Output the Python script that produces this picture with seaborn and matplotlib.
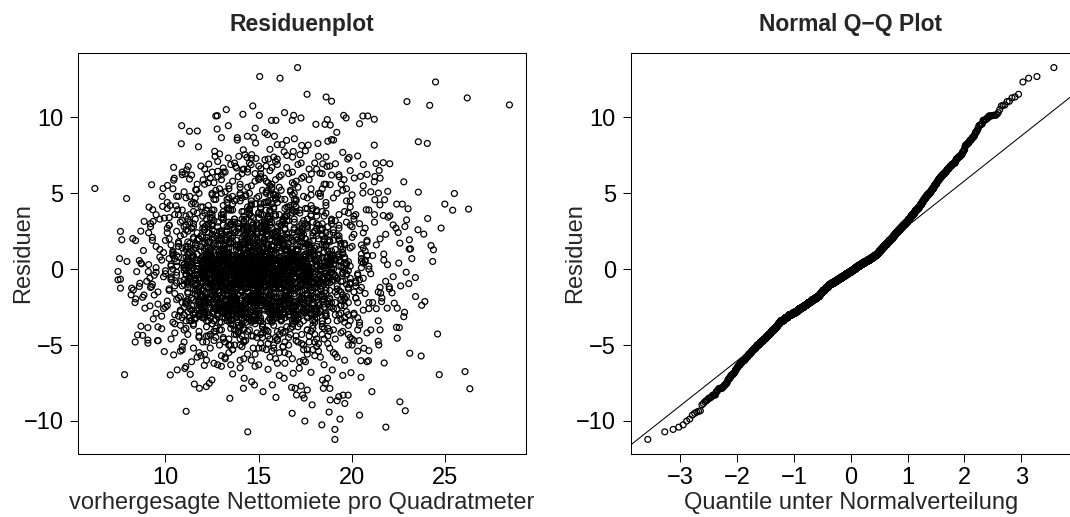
import numpy as np
import pandas as pd
import matplotlib
matplotlib.use("Agg")
import matplotlib.pyplot as plt
import seaborn as sns
from statistics import NormalDist

# ---------------- data ----------------
# outer points: large positive residuals
fitted_top = [17.08,15.05,16.14,24.47,17.59,26.17,18.61,18.90,22.94,24.16,28.43,14.68,13.26,16.38,12.70,12.78,
              14.15,15.03,16.87,17.26,19.55,19.68,20.58,20.84,21.19,20.40,15.68,15.92,16.79,18.06,18.67,18.55,
              18.83,10.87,11.29,11.71,12.77,13.37,14.81,19.18,10.85,11.77,13.00,13.85,13.85,14.39,14.72,14.83,
              15.33,15.47,15.84,15.99,16.25,16.49,16.91,17.30,17.65,18.17,18.70,18.90,19.01,21.19,23.55,24.03]
resid_top = [13.29,12.70,12.59,12.34,11.53,11.29,11.35,11.07,11.05,10.80,10.83,10.76,10.52,10.32,10.10,10.12,
             10.21,10.14,10.14,9.97,10.14,9.97,10.10,10.10,9.88,9.59,9.81,9.81,9.81,9.55,9.86,9.55,
             9.50,9.46,9.09,9.11,9.24,9.46,9.29,9.02,8.27,8.07,8.67,8.67,8.51,8.76,8.69,8.32,
             9.00,8.87,8.76,8.21,8.21,8.49,8.60,8.16,8.18,8.29,8.43,8.54,8.51,8.18,8.40,8.29]

fitted_upper = [21.28,21.67,22.02,21.45,20.30,19.77,19.84,19.11,20.80,20.45,12.64,12.66,12.32,12.80,13.37,12.23,
                13.93,14.37,14.85,13.76,14.15,14.59,15.11,15.51,15.81,15.99,16.36,16.81,17.21,17.27,17.82,18.20,
                18.43,18.28,18.65,19.29,10.44,10.90,11.22,11.05,12.51,13.10,13.81,14.17,14.26,14.62,15.33,16.85,
                11.14,10.47,11.67,12.02,19.57,20.12,18.83,19.42,21.22]
resid_upper = [6.97,7.02,6.95,6.51,7.46,7.26,7.37,6.95,6.25,6.12,7.77,7.44,6.93,6.45,7.33,6.27,
               7.44,7.37,7.30,6.78,6.56,6.89,6.62,7.26,7.39,7.26,7.74,7.39,7.55,7.00,6.29,7.44,
               6.95,6.34,6.78,6.23,6.71,6.23,6.78,6.29,6.40,6.67,6.67,7.87,7.55,7.55,7.21,7.76,
               6.55,6.00,5.23,5.89,5.90,6.01,5.57,5.61,6.11]

fitted_left = [6.22,7.92,9.26,9.87,10.11,9.83,10.44,11.29,11.62,10.24,10.57,10.66,10.70,9.50,9.85,9.94,
               9.12,9.32,8.86,9.34,8.68,7.59,7.66,8.25,8.40,8.82,7.94,7.54,8.60,8.69,7.46,7.46,
               7.59,8.60,7.59,8.41,8.16,8.19,9.35,8.69,9.06,8.51,9.80,8.38,9.06,9.58,9.94,10.44,
               10.90,8.28,8.37,8.85,8.78,8.63,8.46,8.72,9.08,9.17,9.26,8.90,9.17,8.78,9.06,9.61]
resid_left = [5.32,4.66,5.57,5.32,5.52,4.80,5.87,5.94,5.24,4.20,4.18,3.92,3.59,3.59,4.14,3.37,
              4.09,3.92,3.15,3.15,2.51,2.49,1.94,2.02,1.89,1.23,0.51,0.70,0.57,0.40,-0.15,-0.70,
              -0.66,-1.14,-1.25,-1.96,-1.69,-1.25,-3.28,-3.76,-3.85,-4.33,-3.92,-4.80,-4.88,-4.71,-5.43,-5.65,
              -5.32,-1.37,-2.20,-1.70,-1.85,-0.93,-0.16,0.35,-0.16,-0.59,-1.15,-2.57,-2.42,-4.36,-4.67,-4.71]

fitted_bottom = [21.06,21.72,20.88,20.47,20.48,19.94,22.56,22.85,21.81,20.40,19.08,19.08,18.38,19.35,
                 18.77,18.83,19.20,19.52,19.79,19.61,19.29,17.86,17.47,16.79,17.35,17.02,16.76,16.95,17.27,
                 17.60,17.43,15.92,13.45,14.41,11.11,7.81,11.82,11.55,12.19,12.35,12.49,14.18,14.62,14.77,
                 15.23,15.73,14.22,16.36,16.84,17.17,18.57,18.68,18.94,18.46,18.81,18.42,10.26,10.63,11.33,
                 11.09,11.04,12.08,24.67,26.05,26.31,13.00,13.60,14.00,15.50,16.10,17.80,19.50]
resid_bottom = [-8.07,-6.18,-6.03,-6.03,-7.13,-6.82,-8.74,-9.33,-10.41,-9.62,-10.56,-11.22,-10.26,-9.88,
                -9.42,-8.62,-8.67,-8.30,-8.30,-8.85,-8.40,-8.94,-10.01,-9.50,-8.29,-8.29,-7.79,-7.85,-7.70,
                -7.96,-8.50,-8.45,-8.51,-10.72,-9.37,-6.95,-7.85,-7.57,-7.74,-7.52,-7.30,-7.85,-7.42,-7.63,
                -8.07,-7.63,-7.19,-7.19,-6.86,-6.53,-7.52,-7.19,-6.64,-7.85,-7.86,-7.31,-6.97,-6.64,-6.93,
                -6.42,-6.54,-6.34,-6.95,-6.75,-7.88,-6.40,-6.90,-6.50,-6.60,-7.00,-6.80,-7.00]

fitted_right = [22.77,21.19,23.55,25.48,24.97,25.39,26.24,23.00,22.69,22.39,21.41,21.91,21.74,24.05,24.77,23.84,
                23.53,23.07,23.13,24.23,24.36,24.32,23.20,22.56,23.06,23.39,23.04,23.40,23.90,23.73,22.81,22.42,
                22.14,22.00,21.88,22.26,22.77,22.53,22.38,22.42,21.50,21.43,24.58,23.09,23.70,20.38,20.63,20.90,
                21.40,20.58,21.22,20.76,22.83,22.92,22.20,22.35,22.47,22.02,21.67,21.93,21.49,21.53,21.99,22.20,
                21.58,22.50,22.90,22.60]
resid_right = [5.76,5.76,5.08,4.99,4.29,3.89,3.96,3.98,4.29,4.29,5.02,5.13,4.58,3.34,2.71,2.31,
               2.60,1.94,1.34,1.56,1.28,0.51,0.70,1.72,1.32,-0.55,-0.95,-1.80,-2.13,-2.38,-2.84,-2.57,
               -1.56,-1.30,-2.57,-2.24,-3.13,-3.85,-3.83,-4.55,-4.00,-4.99,-4.27,-5.54,-5.72,-4.71,-5.21,-5.37,
               -4.75,5.02,4.58,3.92,2.81,3.25,2.92,2.71,2.42,3.52,3.54,3.43,4.24,-1.58,-1.15,-0.49,
               -2.14,0.40,-0.20,-1.10]

# core cloud, fitted 9-13
fitted_core_a = [9.1,9.2,9.3,9.4,9.5,9.6,9.7,9.8,9.9,9.0,9.2,9.4,9.5,9.7,9.9,9.3,9.5,9.6,9.8,9.1,9.3,9.5,9.7,9.9,9.2,9.6,
    10.3,10.7,10.1,10.9,10.5,10.2,10.8,10.4,10.6,10.0,10.5,10.9,10.2,10.7,10.3,10.8,10.1,10.6,10.4,10.9,
    10.2,10.5,10.8,10.0,10.6,10.3,10.7,10.1,10.4,10.9,10.5,10.2,10.8,10.6,10.3,10.7,10.0,10.4,10.9,10.1,
    10.6,10.8,10.2,10.5,10.7,10.3,10.9,10.4,
    11.4,11.8,11.1,11.6,11.0,11.9,11.3,11.7,11.2,11.5,11.8,11.2,11.6,11.0,11.4,11.9,11.3,11.7,11.1,11.5,
    11.6,11.3,11.9,11.1,11.7,11.4,11.0,11.8,11.2,11.5,11.9,11.4,11.2,11.7,11.5,11.0,11.6,11.3,11.8,11.1,
    11.2,11.7,11.5,11.9,11.3,11.6,11.1,11.8,11.4,11.0,11.5,11.9,11.2,11.6,11.8,11.3,11.7,11.1,11.4,11.6,
    11.7,11.2,11.9,11.4,11.5,11.8,11.3,11.6,11.1,11.8,11.5,11.9,
    12.3,12.7,12.0,12.9,12.5,12.2,12.8,12.4,12.6,12.1,12.6,12.2,12.9,12.4,12.0,12.7,12.3,12.8,12.5,12.1,
    12.8,12.4,12.1,12.6,12.9,12.3,12.5,12.0,12.7,12.2,12.5,12.9,12.2,12.7,12.1,12.4,12.8,12.6,12.0,12.3,
    12.1,12.6,12.8,12.3,12.5,12.9,12.0,12.4,12.2,12.7,12.9,12.3,12.6,12.0,12.8,12.2,12.5,12.7,12.1,12.4,
    12.4,12.8,12.2,12.5,12.3,12.7,12.1,12.9,12.6,12.0,12.7,12.1,12.4,12.9,12.6,12.0,12.8,12.3,12.5,12.2,
    12.2,12.5,12.9,12.1,12.7,12.4,12.0,12.6,12.3,12.8,12.6,12.3,12.8,12.5]
resid_core_a = [0.3,-1.2,2.1,-0.4,1.5,-2.3,0.8,-3.1,1.1,-0.8,2.8,-1.7,0.1,3.3,-2.6,1.9,-0.2,-3.8,0.6,2.4,-1.0,-2.9,1.3,-0.5,3.0,-1.5,
    -0.6,1.8,-2.4,0.4,3.6,-1.3,2.2,-3.5,0.9,-0.1,-4.2,1.4,2.9,-1.9,0.2,-2.8,4.4,-0.9,1.0,-3.2,
    0.7,-1.6,3.1,-0.3,2.5,-4.6,1.7,-2.1,0.0,3.9,-1.1,2.0,-3.7,0.5,-0.7,4.8,-2.5,1.2,-5.1,2.7,
    -0.4,-1.8,3.4,-3.0,0.8,1.6,-2.2,5.3,
    0.8,-1.5,2.6,-3.3,0.1,4.1,-0.7,1.9,-2.0,3.0,-4.4,0.5,-1.1,2.3,-2.7,1.2,-0.2,3.7,-3.9,0.9,
    1.6,-0.5,-2.3,4.7,-1.4,0.3,2.8,-3.0,1.0,-5.2,0.6,-1.9,3.3,-0.9,2.0,-4.0,1.4,-2.6,5.0,-0.3,
    -1.2,2.4,-3.6,0.0,1.7,-0.6,3.5,-2.2,0.4,-4.8,2.1,-1.7,0.7,4.3,-2.9,1.1,-0.4,-3.4,2.7,-1.0,
    5.6,-0.8,1.5,-2.4,3.8,-5.5,0.2,-1.6,2.9,-3.1,1.3,-0.1,
    -0.3,2.2,-1.8,0.9,-3.6,1.5,-0.8,3.4,-2.3,0.4,4.6,-1.2,0.1,-4.3,2.7,-0.5,1.8,-2.9,0.6,-1.6,
    3.1,-3.2,1.2,-0.1,-5.0,2.4,-1.4,0.8,5.2,-2.1,-0.7,1.9,-3.8,0.3,3.7,-1.0,2.0,-2.6,-0.4,4.2,
    1.4,-4.7,0.5,-1.9,2.9,-0.2,-3.0,1.1,3.9,-1.3,-2.4,0.7,5.7,-0.9,1.6,-3.4,2.3,-0.6,-5.6,1.0,
    0.2,-2.0,3.3,-1.5,0.9,-4.1,2.6,-0.3,1.7,-2.8,4.9,-1.1,0.0,-3.5,2.1,-0.8,1.3,-2.2,3.6,-6.0,
    0.6,-1.7,2.5,-0.5,-4.5,1.2,3.0,-2.5,0.4,6.1,-1.4,2.8,-3.1,0.8]

# core cloud, fitted 13-17
fitted_core_b = [13.2,13.6,13.9,13.1,13.5,13.8,13.0,13.4,13.7,13.3,13.7,13.3,13.0,13.5,13.9,13.2,13.6,13.1,13.8,13.4,
    13.4,13.8,13.2,13.6,13.0,13.9,13.5,13.3,13.1,13.7,13.9,13.1,13.5,13.7,13.3,13.0,13.8,13.6,13.4,13.2,
    13.5,13.2,13.8,13.0,13.6,13.4,13.1,13.9,13.3,13.7,13.1,13.7,13.4,13.8,13.2,13.5,13.9,13.0,13.6,13.3,
    13.8,13.4,13.6,13.2,13.9,13.1,13.3,13.7,13.5,13.0,13.3,13.9,13.1,13.4,13.7,13.6,13.2,13.8,13.0,13.5,
    13.6,13.0,13.3,13.9,13.1,13.8,13.4,13.5,13.7,13.2,13.0,13.5,13.7,13.3,13.6,13.2,13.8,13.1,13.4,13.9,
    13.4,13.7,13.1,13.6,13.3,13.8,13.5,13.2,
    14.1,14.5,14.8,14.2,14.6,14.9,14.0,14.4,14.7,14.3,14.6,14.2,14.9,14.4,14.0,14.7,14.3,14.8,14.1,14.5,
    14.3,14.7,14.0,14.5,14.8,14.1,14.6,14.9,14.2,14.4,14.8,14.4,14.1,14.6,14.3,14.0,14.7,14.5,14.9,14.2,
    14.0,14.6,14.3,14.9,14.5,14.2,14.8,14.1,14.4,14.7,14.5,14.1,14.7,14.3,14.9,14.6,14.0,14.2,14.8,14.4,
    14.7,14.3,14.5,14.0,14.2,14.8,14.4,14.6,14.1,14.9,14.2,14.9,14.4,14.8,14.1,14.3,14.5,14.0,14.7,14.6,
    14.9,14.0,14.6,14.1,14.7,14.5,14.2,14.3,14.6,14.8,14.4,14.8,14.2,14.7,14.0,14.9,14.3,14.5,14.1,14.6,
    14.3,14.6,14.9,14.1,14.4,14.7,14.2,14.8,14.5,14.0,14.5,14.2,14.8,14.4,
    15.2,15.6,15.9,15.1,15.5,15.8,15.0,15.4,15.7,15.3,15.7,15.3,15.0,15.5,15.9,15.2,15.6,15.1,15.8,15.4,
    15.4,15.8,15.2,15.6,15.0,15.9,15.5,15.3,15.1,15.7,15.9,15.1,15.5,15.7,15.3,15.0,15.8,15.6,15.4,15.2,
    15.5,15.2,15.8,15.0,15.6,15.4,15.1,15.9,15.3,15.7,15.1,15.7,15.4,15.8,15.2,15.5,15.9,15.0,15.6,15.3,
    15.8,15.4,15.6,15.2,15.9,15.1,15.3,15.7,15.5,15.0,15.3,15.9,15.1,15.4,15.7,15.6,15.2,15.8,15.0,15.5,
    15.6,15.0,15.3,15.9,15.1,15.8,15.4,15.5,15.7,15.2,15.0,15.5,15.7,15.3,15.6,15.2,15.8,15.1,15.4,15.9,
    15.4,15.7,15.1,15.6,15.3,15.8,15.5,15.2,15.9,15.0,
    16.3,16.7,16.0,16.9,16.5,16.2,16.8,16.4,16.6,16.1,16.6,16.2,16.9,16.4,16.0,16.7,16.3,16.8,16.5,16.1,
    16.8,16.4,16.1,16.6,16.9,16.3,16.5,16.0,16.7,16.2,16.5,16.9,16.2,16.7,16.1,16.4,16.8,16.6,16.0,16.3,
    16.1,16.6,16.8,16.3,16.5,16.9,16.0,16.4,16.2,16.7,16.9,16.3,16.6,16.0,16.8,16.2,16.5,16.7,16.1,16.4,
    16.4,16.8,16.2,16.5,16.3,16.7,16.1,16.9,16.6,16.0,16.7,16.1,16.4,16.9,16.6,16.0,16.8,16.3,16.5,16.2,
    16.2,16.5,16.9,16.1,16.7,16.4,16.0,16.6,16.3,16.8,16.6,16.3,16.8,16.5,16.1,16.4,16.7,16.0]
resid_core_b = [0.5,-1.9,3.0,-0.4,1.7,-3.1,0.0,2.3,-2.5,4.4,-0.9,1.1,-4.0,0.7,2.8,-1.4,-5.3,3.6,-0.2,1.4,
    -2.8,0.3,5.1,-1.1,2.0,-3.7,0.9,-0.6,3.3,-2.1,1.5,-4.5,0.2,-1.6,4.0,-0.8,2.5,-3.3,0.6,-5.8,
    2.9,-1.3,0.4,-2.7,1.8,5.5,-0.5,-3.9,1.0,-1.8,3.8,-0.1,-2.3,0.8,-4.8,2.2,-1.0,1.3,-3.0,0.1,
    -0.7,4.7,-2.0,1.6,-3.5,0.5,2.6,-1.5,-6.3,1.9,0.9,-2.6,3.4,-0.3,-4.3,2.1,-1.2,0.4,5.9,-3.4,
    -1.7,1.2,-0.4,2.7,-2.9,0.0,-5.0,3.9,-0.9,1.5,2.4,-3.6,0.6,-1.4,4.3,-2.2,0.2,-0.7,3.1,-4.1,
    1.0,-1.9,6.4,-2.4,0.8,-3.2,1.7,-0.5,
    -0.2,1.6,-2.2,3.5,-0.9,0.4,-3.8,2.0,-1.3,4.9,0.8,-2.7,1.2,-0.5,-4.6,2.9,0.1,-1.7,3.3,-3.2,
    1.9,-0.7,5.4,-2.0,0.5,-1.1,2.4,-4.2,0.0,3.8,-2.5,1.0,-0.3,4.5,-3.5,0.7,-5.2,1.8,-1.5,2.6,
    -0.6,3.1,-2.9,0.3,1.4,-4.0,5.8,-1.0,2.2,-0.1,-3.3,0.9,-1.8,2.8,-0.4,4.2,-2.4,1.3,-5.6,0.2,
    1.7,-1.2,3.6,-3.0,0.6,-0.8,2.1,-4.4,6.3,-1.6,0.4,2.5,-2.1,1.1,-3.6,-0.2,4.0,-1.4,0.8,-6.0,
    3.0,-0.9,1.5,-2.6,0.0,5.0,-3.9,2.3,-0.6,1.2,-1.9,0.5,-4.8,3.4,-0.3,1.9,-2.3,0.9,4.7,-1.0,
    2.7,-3.4,0.2,-0.7,6.6,-2.8,1.6,-1.3,3.9,-5.0,0.6,-0.5,2.0,-2.0,
    0.7,-1.4,2.5,4.3,-0.3,-2.8,1.2,5.0,-0.8,3.2,-3.5,0.2,1.8,-1.9,4.7,-0.5,2.9,-4.3,0.9,3.9,
    -2.2,1.5,-0.1,5.5,-3.1,0.6,2.2,-1.2,4.0,-5.4,1.0,-0.7,3.5,-2.5,0.3,6.0,-1.6,2.0,-4.0,1.3,
    4.5,-0.2,-3.3,1.7,0.0,3.0,-1.0,-5.9,2.6,-2.0,0.4,5.3,-1.5,2.4,-3.8,1.1,-0.4,3.7,-2.6,0.8,
    -0.9,2.8,-4.6,1.4,4.9,-1.8,0.1,-2.9,3.4,-0.6,1.9,-3.0,6.3,-1.1,0.5,-2.3,2.1,4.1,-0.3,-4.9,
    3.3,-1.6,0.8,-0.1,2.7,-3.7,5.8,-2.1,1.6,-0.8,-1.3,4.4,0.2,-2.7,1.2,3.6,-5.0,0.6,-0.5,2.3,
    5.1,-3.4,1.0,-1.7,3.1,-0.2,-4.4,2.5,0.3,-1.0,
    -0.5,2.1,-2.4,0.8,4.1,-1.3,-3.6,1.6,0.0,3.0,-4.5,0.4,2.6,-1.8,-0.2,5.2,-2.9,1.1,-0.8,3.6,
    1.9,-3.2,0.6,-1.1,4.6,-5.1,2.3,-0.4,0.9,-2.1,-1.5,3.3,0.2,-3.9,1.4,-0.7,5.7,-2.6,2.8,-0.1,
    0.7,-1.9,3.9,-4.2,1.2,-0.3,2.4,-6.2,-1.2,0.5,4.3,-2.3,1.7,-0.6,-3.4,2.9,0.1,-1.6,6.1,-4.8,
    -0.9,1.3,-2.7,3.5,0.3,-1.4,2.0,-3.0,-0.2,4.8,1.0,-5.5,2.7,-0.5,-2.0,0.6,3.7,-1.0,-3.8,1.8,
    0.2,-1.7,5.0,-2.5,0.9,-4.1,2.2,-0.7,3.2,-1.3,-3.1,0.5,1.5,-0.1,-2.2,4.0,-0.9,2.5]

# core cloud, fitted 17-22
fitted_core_c = [17.2,17.6,17.9,17.1,17.5,17.8,17.0,17.4,17.7,17.3,17.7,17.3,17.0,17.5,17.9,17.2,17.6,17.1,17.8,17.4,
    17.4,17.8,17.2,17.6,17.0,17.9,17.5,17.3,17.1,17.7,17.9,17.1,17.5,17.7,17.3,17.0,17.8,17.6,17.4,17.2,
    17.5,17.2,17.8,17.0,17.6,17.4,17.1,17.9,17.3,17.7,17.1,17.7,17.4,17.8,17.2,17.5,17.9,17.0,17.6,17.3,
    17.8,17.4,17.6,17.2,17.9,17.1,17.3,17.7,17.5,17.0,17.3,17.9,17.1,17.4,17.7,17.6,17.2,17.8,17.0,17.5,
    17.6,17.0,
    18.3,18.7,18.0,18.9,18.5,18.2,18.8,18.4,18.6,18.1,18.6,18.2,18.9,18.4,18.0,18.7,18.3,18.8,18.5,18.1,
    18.8,18.4,18.1,18.6,18.9,18.3,18.5,18.0,18.7,18.2,18.5,18.9,18.2,18.7,18.1,18.4,18.8,18.6,18.0,18.3,
    18.1,18.6,18.8,18.3,18.5,18.9,18.0,18.4,18.2,18.7,18.9,18.3,18.6,18.0,18.8,18.2,18.5,18.7,18.1,18.4,
    18.4,18.8,18.2,18.5,18.3,18.7,
    19.3,19.7,19.0,19.9,19.5,19.2,19.8,19.4,19.6,19.1,19.6,19.2,19.9,19.4,19.0,19.7,19.3,19.8,19.5,19.1,
    19.8,19.4,19.1,19.6,19.9,19.3,19.5,19.0,19.7,19.2,19.5,19.9,19.2,19.7,19.1,19.4,19.8,19.6,19.0,19.3,
    19.1,19.6,19.8,19.3,19.5,19.9,19.0,19.4,
    20.2,20.6,20.9,20.1,20.5,20.8,20.0,20.4,20.7,20.3,20.7,20.3,20.0,20.5,20.9,20.2,20.6,20.1,20.8,20.4,
    20.4,20.8,20.2,20.6,20.0,20.9,20.5,20.3,20.1,20.7,20.5,20.1,
    21.1,21.5,21.8,21.3,21.0,21.7,21.4,21.9,21.2,21.6,21.3,21.8,21.1,21.5,21.0,21.7,21.4,21.2]
resid_core_c = [0.3,-1.7,2.4,-3.0,1.0,-0.5,3.8,-2.2,0.7,-4.3,1.8,-0.9,4.6,-1.4,0.0,-3.6,2.9,-0.3,1.4,-5.0,
    -2.6,0.9,-1.1,3.3,-4.7,0.4,2.0,-1.9,5.4,-0.6,1.2,-3.3,0.1,-0.8,2.6,-2.4,4.2,-5.6,0.6,-1.5,
    3.0,-0.2,-2.9,1.6,-4.0,0.8,-1.2,2.2,-0.4,5.9,-3.8,1.1,-0.7,3.6,-2.0,0.2,-5.3,1.9,-1.6,2.7,
    0.5,-2.7,4.0,-0.1,-3.4,1.3,-1.0,0.9,-6.1,2.1,-0.5,3.1,-2.3,1.5,-4.4,0.3,-1.8,4.9,-0.9,1.7,
    -3.1,0.0,
    -0.4,1.9,-2.8,0.6,3.5,-1.5,-4.1,2.3,-0.9,0.3,4.4,-2.2,1.2,-0.6,-3.5,2.8,0.0,-5.2,1.6,-1.2,
    -1.9,0.8,3.0,-3.1,-0.2,5.0,-4.6,1.4,-0.8,2.0,0.4,-2.5,1.0,-0.5,3.9,-3.8,0.7,-1.6,2.5,-5.8,
    1.5,-0.1,-2.0,4.8,-1.0,0.9,-3.3,2.2,-0.7,-4.4,3.2,-1.3,0.2,-2.6,1.8,-0.3,5.6,-3.9,0.5,-1.8,
    2.7,-0.6,-4.9,1.1,-2.3,0.1,
    0.2,-1.8,2.6,-3.4,1.1,-0.6,3.7,-2.4,0.7,-4.6,1.6,-1.1,4.5,-2.9,0.0,-0.4,2.2,-5.0,1.3,-1.5,
    -3.7,0.5,3.2,-2.0,-0.9,1.9,-4.1,0.9,5.3,-2.6,-0.2,2.9,-1.3,0.4,-5.6,1.5,-3.0,3.8,-0.7,2.0,
    -2.2,0.8,-4.3,1.0,-1.7,4.1,-0.3,-3.3,
    -0.8,1.4,-2.6,3.3,0.1,-4.2,2.1,-1.4,0.6,-3.2,2.7,-0.3,-5.0,1.0,3.9,-1.9,0.4,-2.9,1.8,-0.7,
    -3.7,0.9,-1.1,2.4,-4.6,0.0,1.6,-2.2,3.5,-1.6,0.5,-3.0,
    0.9,-1.2,2.3,-2.6,-0.3,1.0,-3.4,0.3,3.1,-1.9,1.6,-0.8,-2.2,2.0,-4.0,0.6,-1.5,3.6]

# dense centre of the cloud
fitted_dense_a = [10.4,10.8,10.1,10.6,10.3,10.9,10.2,10.7,10.5,10.0,10.6,10.2,10.8,10.4,10.9,10.1,10.5,10.7,10.3,10.6,
    11.5,11.1,11.8,11.3,11.6,11.0,11.9,11.4,11.7,11.2,11.2,11.7,11.4,11.9,11.0,11.6,11.3,11.8,11.1,11.5,
    11.8,11.3,11.6,11.1,11.4,11.9,11.0,11.5,11.7,11.2,11.4,11.9,11.1,11.6,11.3,11.7,11.2,11.8,11.5,11.0,
    12.4,12.8,12.1,12.6,12.3,12.9,12.2,12.7,12.5,12.0,12.7,12.3,12.9,12.1,12.5,12.8,12.0,12.4,12.6,12.2,
    12.2,12.6,12.4,12.8,12.0,12.5,12.9,12.3,12.1,12.7,12.9,12.1,12.5,12.3,12.7,12.2,12.6,12.0,12.8,12.4,
    12.5,12.0,12.8,12.4,12.2,12.6,12.3,12.9,12.7,12.1,12.3,12.7,12.0,12.5,12.9,12.1,12.8,12.6,12.4,12.2,
    12.6,12.4,12.2,12.9,12.1,12.7,12.5,12.0,12.3,12.8,
    13.5,13.1,13.8,13.3,13.6,13.0,13.9,13.4,13.7,13.2,13.2,13.7,13.4,13.9,13.0,13.6,13.3,13.8,13.1,13.5,
    13.8,13.3,13.6,13.1,13.4,13.9,13.0,13.5,13.7,13.2,13.4,13.9,13.1,13.6,13.3,13.7,13.2,13.8,13.5,13.0,
    13.6,13.0,13.5,13.2,13.8,13.4,13.1,13.7,13.9,13.3,13.1,13.5,13.3,13.8,13.6,13.2,13.9,13.0,13.4,13.7,
    13.9,13.4,13.7,13.0,13.2,13.8,13.5,13.3,13.6,13.1,13.3,13.6,13.0,13.4,13.9,13.1,13.7,13.5,13.2,13.8,
    13.7,13.2,13.9,13.5,13.1,13.3,13.0,13.6,13.8,13.4]
resid_dense_a = [1.1,-0.8,2.4,-2.0,0.3,3.2,-1.4,-3.1,0.7,1.9,-0.2,2.9,-2.7,0.9,-1.1,4.0,-3.6,1.5,-0.5,0.2,
    -0.4,1.3,-2.1,3.1,0.6,-1.0,2.2,-3.4,0.0,1.8,-1.6,0.4,2.7,-2.5,1.1,-0.7,3.6,-4.1,0.8,-1.3,
    2.0,-0.2,-2.9,1.5,4.3,-1.8,0.3,-3.7,1.0,2.5,-0.9,0.7,-2.2,3.3,-0.5,1.6,-1.5,-4.5,2.8,0.1,
    0.2,-1.1,1.7,-2.4,3.0,-0.6,0.9,-3.3,2.3,-1.7,-0.3,1.4,-4.0,0.6,2.6,-1.4,-0.1,3.7,-2.8,1.0,
    1.9,-0.8,-2.0,0.4,4.1,-3.6,1.2,-0.4,2.8,-1.2,-2.6,0.7,3.4,-0.9,1.5,-4.4,0.0,2.1,-1.9,0.8,
    3.9,-0.5,-3.0,1.3,-1.5,2.5,0.3,-2.3,4.6,-0.2,1.1,-3.9,0.5,-1.0,2.0,-2.1,0.9,3.2,-0.7,-4.8,
    1.6,-1.6,2.9,-0.1,-3.2,0.4,5.0,-2.5,1.8,-0.9,
    -0.6,1.0,-2.2,2.5,0.1,-3.5,1.6,-1.2,3.3,-0.3,0.8,-1.8,4.0,-0.9,2.0,-2.9,0.4,-4.3,1.3,-0.1,
    -1.4,2.8,0.6,-2.5,1.8,-0.7,3.6,-3.9,0.2,1.2,2.2,-0.4,-1.6,0.9,-3.1,4.5,-0.8,1.5,-2.0,0.0,
    -2.7,0.5,3.0,-1.1,1.9,-4.6,0.3,-0.5,2.4,-1.7,1.4,-3.3,0.7,-0.2,3.9,-2.3,1.1,-1.0,-5.0,2.6,
    0.0,1.7,-2.6,3.4,-0.6,0.9,-1.5,2.1,-3.7,0.5,-0.9,4.8,-1.9,1.0,-0.3,2.9,-4.0,0.6,-1.3,1.6,
    3.1,-2.4,0.2,-0.8,1.3,-3.0,2.3,-1.6,0.4,5.3]

fitted_dense_b = [14.5,14.1,14.8,14.3,14.6,14.0,14.9,14.4,14.7,14.2,14.2,14.7,14.4,14.9,14.0,14.6,14.3,14.8,14.1,14.5,
    14.8,14.3,14.6,14.1,14.4,14.9,14.0,14.5,14.7,14.2,14.4,14.9,14.1,14.6,14.3,14.7,14.2,14.8,14.5,14.0,
    14.6,14.0,14.5,14.2,14.8,14.4,14.1,14.7,14.9,14.3,14.1,14.5,14.3,14.8,14.6,14.2,14.9,14.0,14.4,14.7,
    14.9,14.4,14.7,14.0,14.2,14.8,14.5,14.3,14.6,14.1,14.3,14.6,14.0,14.4,14.9,14.1,14.7,14.5,14.2,14.8,
    14.7,14.2,14.9,14.5,14.1,14.3,14.0,14.6,14.8,14.4,14.0,14.8,14.2,14.6,14.4,14.9,14.3,14.1,14.7,14.5,
    15.4,15.8,15.1,15.6,15.3,15.9,15.2,15.7,15.5,15.0,15.7,15.3,15.9,15.1,15.5,15.8,15.0,15.4,15.6,15.2,
    15.2,15.6,15.4,15.8,15.0,15.5,15.9,15.3,15.1,15.7,15.9,15.1,15.5,15.3,15.7,15.2,15.6,15.0,15.8,15.4,
    15.5,15.0,15.8,15.4,15.2,15.6,15.3,15.9,15.7,15.1,15.3,15.7,15.0,15.5,15.9,15.1,15.8,15.6,15.4,15.2,
    15.6,15.4,15.2,15.9,15.1,15.7,15.5,15.0,15.3,15.8,15.1,15.5,15.7,15.2,15.8,15.4,15.0,15.6,15.9,15.3,
    15.8,15.2,15.6,15.0,15.4,15.9,15.3,15.1,15.7,15.5,15.0,15.6,15.3,15.7,15.1,15.4,15.8,15.5,15.2,15.9,
    16.5,16.1,16.8,16.3,16.6,16.0,16.9,16.4,16.7,16.2,16.2,16.7,16.4,16.9,16.0,16.6,16.3,16.8,16.1,16.5,
    16.8,16.3,16.6,16.1,16.4,16.9,16.0,16.5,16.7,16.2,16.4,16.9,16.1,16.6,16.3,16.7,16.2,16.8,16.5,16.0,
    16.6,16.0,16.5,16.2,16.8,16.4,16.1,16.7,16.9,16.3,16.1,16.5,16.3,16.8,16.6,16.2,16.9,16.0,16.4,16.7,
    16.9,16.4,16.7,16.0,16.2,16.8,16.5,16.3,16.6,16.1,16.3,16.6,16.0,16.4,16.9,16.1,16.7,16.5,16.2,16.8,
    16.7,16.2,16.9,16.5,16.1,16.3,16.0,16.6,16.8,16.4]
resid_dense_b = [0.4,-1.5,2.1,-0.3,3.5,-2.6,1.0,-4.1,0.7,-0.9,1.8,-2.0,0.0,2.9,-1.2,4.3,-3.2,0.5,-0.6,1.4,
    -2.8,0.9,-1.7,3.8,-0.1,1.6,-3.8,2.4,-1.0,0.2,2.6,-0.5,-4.4,1.2,-2.3,0.6,3.1,-1.4,-0.2,4.9,
    -1.8,1.5,-0.7,2.2,-3.0,0.1,-5.1,1.9,-0.4,3.3,0.8,-2.5,1.7,-1.1,-3.5,2.7,0.3,-0.8,4.1,-1.6,
    -0.3,2.0,-2.1,1.1,-4.7,0.4,3.7,-1.3,0.9,-2.9,1.3,-0.6,5.6,-1.9,0.2,-3.3,2.5,-0.9,1.0,-2.2,
    3.0,-1.0,0.6,-4.0,1.8,-0.2,-2.7,2.3,0.0,-1.5,4.5,-3.6,1.4,-0.5,2.8,-1.2,0.7,-2.4,1.6,-0.7,
    1.2,-0.8,3.6,-2.3,0.5,4.6,-1.4,2.2,-3.4,0.0,-0.5,2.8,-1.9,1.6,5.2,-2.8,0.8,-0.2,3.9,-4.2,
    2.4,-1.1,0.3,4.0,-3.0,1.4,-0.6,2.9,-1.7,5.6,-2.5,0.9,3.3,-0.4,1.9,-3.8,0.6,4.8,-1.2,2.6,
    -0.9,3.7,-2.1,1.0,-4.5,0.2,2.0,-1.5,4.3,-0.1,3.0,-2.7,1.3,-0.7,5.9,-1.8,0.7,-3.3,2.5,1.7,
    -1.0,4.4,-0.3,2.1,-2.4,1.1,3.4,-5.2,0.4,-1.6,2.7,-0.5,1.5,-3.6,4.9,0.1,-2.0,3.1,-0.8,1.8,
    -1.3,0.5,3.8,-2.9,2.3,-0.2,-4.0,1.2,5.4,-0.6,0.9,-1.9,2.6,-3.1,4.1,0.3,-0.9,1.6,-2.2,3.5,
    0.6,-1.3,2.4,-0.2,-3.0,1.5,3.8,-1.8,0.1,-4.0,2.0,-0.6,1.0,-2.5,4.4,-0.9,0.4,-3.6,1.8,-1.5,
    -0.3,3.1,-2.2,0.8,-0.7,2.7,-4.6,1.3,-1.0,0.2,3.5,-2.8,0.5,-1.2,1.9,-0.4,-3.3,4.9,0.9,-1.9,
    -0.1,1.4,-2.6,2.9,-0.8,0.3,-4.3,1.1,-1.6,3.3,1.6,-0.5,-2.0,0.7,4.1,-3.1,0.0,2.2,-1.4,-0.9,
    -2.4,2.6,0.4,-1.1,1.2,-3.8,3.6,-0.3,-5.0,0.8,1.7,-1.7,0.2,3.0,-2.9,0.6,-0.6,2.1,-3.4,1.0,
    -1.3,4.6,-0.2,1.5,-2.1,0.5,-4.7,2.4,-0.8,1.3]

fitted_dense_c = [17.5,17.1,17.8,17.3,17.6,17.0,17.9,17.4,17.7,17.2,17.2,17.7,17.4,17.9,17.0,17.6,17.3,17.8,17.1,17.5,
    17.8,17.3,17.6,17.1,17.4,17.9,17.0,17.5,17.7,17.2,17.4,17.9,17.1,17.6,17.3,17.7,17.2,17.8,17.5,17.0,
    17.6,17.0,17.5,17.2,17.8,17.4,17.1,17.7,17.9,17.3,17.1,17.5,17.3,17.8,17.6,17.2,17.9,17.0,17.4,17.7,
    17.9,17.4,17.7,17.0,17.2,17.8,17.5,17.3,17.6,17.1,17.3,17.6,17.0,17.4,17.9,
    18.5,18.1,18.8,18.3,18.6,18.0,18.9,18.4,18.7,18.2,18.2,18.7,18.4,18.9,18.0,18.6,18.3,18.8,18.1,18.5,
    18.8,18.3,18.6,18.1,18.4,18.9,18.0,18.5,18.7,18.2,18.4,18.9,18.1,18.6,18.3,18.7,18.2,18.8,18.5,18.0,
    18.6,18.0,18.5,18.2,18.8,18.4,18.1,18.7,18.9,18.3,18.1,18.5,18.3,18.8,18.6,
    19.5,19.1,19.8,19.3,19.6,19.0,19.9,19.4,19.7,19.2,19.2,19.7,19.4,19.9,19.0,19.6,19.3,19.8,19.1,19.5,
    19.8,19.3,19.6,19.1,19.4,19.9,19.0,19.5,19.7,19.2,19.4,19.9,19.1,19.6,19.3,
    20.5,20.1,20.8,20.3,20.6,20.0,20.9,20.4,20.7,20.2,20.2,20.7,20.4,20.9,20.0,20.6,20.3,20.8,20.1,20.5]
resid_dense_c = [-0.4,1.2,-2.0,0.5,2.8,-1.3,-3.7,0.9,-0.6,3.9,1.5,-2.6,0.1,-0.9,4.5,-1.6,2.2,-4.1,0.7,-0.2,
    -3.0,1.8,-1.1,0.3,3.2,-2.3,-0.5,1.0,-4.8,2.5,0.0,-1.8,2.0,-0.3,-2.9,1.4,-0.8,3.5,-1.4,0.6,
    2.7,-3.4,0.4,-1.0,1.1,-5.3,0.8,-0.1,4.0,-2.2,-1.5,0.2,3.0,-2.7,1.6,-0.7,-3.9,2.1,0.9,-1.2,
    1.9,-0.4,-2.5,0.5,3.7,-1.7,-0.2,2.4,-3.2,1.3,-0.9,0.1,-4.4,1.7,-1.9,
    0.1,-1.6,1.9,-2.8,0.8,-0.5,3.3,-3.6,1.2,-1.0,-2.2,0.5,2.6,-0.8,-4.3,1.5,-1.3,0.3,3.8,-2.5,
    1.0,-0.2,-3.1,2.2,-1.8,0.7,-4.8,1.8,-0.6,2.9,-1.1,0.0,-2.6,4.2,0.4,-3.4,1.3,-0.9,2.0,-1.9,
    -0.3,2.5,-3.9,0.9,-1.4,1.6,-0.7,-2.3,3.0,0.2,-5.1,1.1,-1.7,0.6,2.4,
    -0.3,1.3,-2.2,0.6,-3.5,2.4,-1.0,0.2,3.1,-1.7,0.9,-2.8,1.7,-0.6,-4.0,0.4,2.7,-1.3,-3.0,1.0,
    -0.1,3.6,-2.4,0.7,-1.5,-4.5,1.9,-0.8,0.3,2.2,-2.0,1.4,-0.4,-3.2,0.8,
    0.7,-1.5,1.9,-0.4,-2.7,2.8,0.2,-3.5,1.2,-0.9,-1.9,0.5,3.0,-2.2,1.5,-0.6,-4.0,0.9,2.3,-1.2]

# darkest band of the cloud (residuals about -3.4 .. 0.8)
fitted_band = [11.3,11.7,11.0,11.5,11.9,11.2,11.6,11.4,11.8,11.1,11.6,11.1,11.8,11.3,11.5,11.0,11.7,11.9,11.2,11.4,
    11.9,11.4,11.2,11.7,11.0,11.6,11.3,11.5,11.8,11.1,11.5,11.8,11.3,11.1,11.6,11.9,11.0,11.2,11.7,11.4,
    11.2,11.5,11.9,11.6,11.3,11.8,11.1,11.4,11.0,11.7,
    12.4,12.0,12.7,12.2,12.9,12.5,12.1,12.8,12.3,12.6,12.1,12.6,12.3,12.9,12.4,12.0,12.8,12.5,12.2,12.7,
    12.8,12.3,12.5,12.0,12.7,12.2,12.9,12.4,12.6,12.1,12.5,12.9,12.1,12.6,12.3,12.8,12.0,12.7,12.4,12.2,
    12.2,12.7,12.4,12.1,12.9,12.6,12.3,12.0,12.8,12.5,12.6,12.1,12.8,12.4,12.0,12.3,12.7,12.5,12.9,12.2,
    12.3,12.8,12.0,12.5,12.6,12.9,12.2,12.1,12.4,12.7,12.9,12.4,12.6,12.2,12.8,12.0,12.5,12.3,12.7,12.1,
    12.0,12.5,12.2,12.7,12.9,
    13.5,13.1,13.8,13.3,13.6,13.0,13.9,13.4,13.7,13.2,13.3,13.7,13.0,13.5,13.9,13.2,13.6,13.1,13.8,13.4,
    13.8,13.2,13.5,13.9,13.1,13.4,13.0,13.7,13.3,13.6,13.1,13.6,13.3,13.0,13.8,13.5,13.2,13.9,13.4,13.7,
    13.6,13.9,13.2,13.7,13.4,13.1,13.8,13.0,13.5,13.3,13.0,13.4,13.7,13.2,13.5,13.8,13.3,13.6,13.9,13.1,
    13.7,13.3,13.9,13.6,13.0,13.2,13.5,13.8,13.1,13.4,13.4,13.8,13.1,13.3,13.7,13.9,13.0,13.2,13.6,13.5,
    13.2,13.5,13.6,13.8,13.3,13.0,13.4,13.1,13.7,13.9,13.9,13.0,13.4,13.1,13.2,13.7,13.8,13.5,13.3,13.6,
    13.5,13.2,13.8,13.4,13.1,
    14.4,14.0,14.7,14.2,14.9,14.5,14.1,14.8,14.3,14.6,14.1,14.6,14.3,14.9,14.4,14.0,14.8,14.5,14.2,14.7,
    14.8,14.3,14.5,14.0,14.7,14.2,14.9,14.4,14.6,14.1,14.5,14.9,14.1,14.6,14.3,14.8,14.0,14.7,14.4,14.2,
    14.2,14.7,14.4,14.1,14.9,14.6,14.3,14.0,14.8,14.5,14.6,14.1,14.8,14.4,14.0,14.3,14.7,14.5,14.9,14.2,
    14.3,14.8,14.0,14.5,14.6,14.9,14.2,14.1,14.4,14.7,14.9,14.4,14.6,14.2,14.8,14.0,14.5,14.3,14.7,14.1,
    14.0,14.5,14.2,14.7,14.9,14.1,14.6,14.8,14.3,14.4,14.7,14.2,14.9,14.3,14.1,14.5,14.0,14.6,14.4,14.8,
    14.6,14.3,14.1,14.8,14.5,14.0,14.7,14.2,14.9,14.4,
    15.5,15.1,15.8,15.3,15.6,15.0,15.9,15.4,15.7,15.2,15.3,15.7,15.0,15.5,15.9,15.2,15.6,15.1,15.8,15.4,
    15.8,15.2,15.5,15.9,15.1,15.4,15.0,15.7,15.3,15.6,15.1,15.6,15.3,15.0,15.8,15.5,15.2,15.9,15.4,15.7,
    15.6,15.9,15.2,15.7,15.4,15.1,15.8,15.0,15.5,15.3,15.0,15.4,15.7,15.2,15.5,15.8,15.3,15.6,15.9,15.1,
    15.7,15.3,15.9,15.6,15.0,15.2,15.5,15.8,15.1,15.4,15.4,15.8,15.1,15.3,15.7,15.9,15.0,15.2,15.6,15.5,
    15.2,15.5,15.6,15.8,15.3,15.0,15.4,15.1,15.7,15.9,15.9,15.0,15.4,15.1,15.2,15.7,15.8,15.5,15.3,15.6,
    15.5,15.2,15.8,15.4,15.1,15.6,15.3,15.9,15.0,15.7,
    16.4,16.0,16.7,16.2,16.9,16.5,16.1,16.8,16.3,16.6,16.1,16.6,16.3,16.9,16.4,16.0,16.8,16.5,16.2,16.7,
    16.8,16.3,16.5,16.0,16.7,16.2,16.9,16.4,16.6,16.1,16.5,16.9,16.1,16.6,16.3,16.8,16.0,16.7,16.4,16.2,
    16.2,16.7,16.4,16.1,16.9,16.6,16.3,16.0,16.8,16.5,16.6,16.1,16.8,16.4,16.0,16.3,16.7,16.5,16.9,16.2,
    16.3,16.8,16.0,16.5,16.6,16.9,16.2,16.1,16.4,16.7,16.9,16.4,16.6,16.2,16.8,16.0,16.5,16.3,16.7,16.1,
    16.0,16.5,16.2,16.7,16.9,16.1,16.6,16.8,16.3,16.4,16.7,16.2,16.9,16.3,16.1,
    17.3,17.7,17.0,17.5,17.9,17.2,17.6,17.4,17.8,17.1,17.6,17.1,17.8,17.3,17.5,17.0,17.7,17.9,17.2,17.4,
    17.9,17.4,17.2,17.7,17.0,17.6,17.3,17.5,17.8,17.1,17.5,17.8,17.3,17.1,17.6,17.9,17.0,17.2,17.7,17.4,
    17.2,17.5,17.9,17.6,17.3,17.8,17.1,17.4,17.0,17.7,17.4,17.0,17.6,17.8,17.2,17.5,17.9,17.3,17.1,17.7,
    17.8,17.3,17.1,17.4,17.6,17.0,17.5,17.2,17.9,17.7,
    18.3,18.7,18.0,18.5,18.9,18.2,18.6,18.4,18.8,18.1,18.6,18.1,18.8,18.3,18.5,18.0,18.7,18.9,18.2,18.4,
    18.9,18.4,18.2,18.7,18.0,18.6,18.3,18.5,18.8,18.1,18.5,18.8,18.3,18.1,18.6,18.9,18.0,18.2,18.7,18.4,
    18.2,18.5,18.9,18.6,18.3,
    19.2,19.6,19.0,19.8,19.4,19.1,19.7,19.3,19.9,19.5,19.5,19.1,19.8,19.3,19.6,19.0,19.4,19.9,19.2,19.7]
resid_band = [-0.5,-1.8,0.3,-2.4,-0.9,0.6,-3.2,-0.1,-2.0,0.2,-2.9,-0.4,-2.6,0.5,-3.0,-0.7,0.0,-2.2,-1.0,0.7,
    -0.2,-1.9,-0.8,0.4,-2.5,-1.4,-0.3,0.8,-1.2,-2.1,0.1,-0.6,-3.4,-2.3,0.6,-1.0,-0.1,-2.8,-2.7,0.3,
    -0.9,-2.0,0.5,-0.4,-3.2,-2.4,0.0,-0.8,-3.0,0.2,
    -0.7,0.4,-1.9,-0.2,-2.5,0.7,-2.9,-0.5,-3.0,0.1,-2.2,-0.9,0.5,-1.4,-0.3,-2.7,0.2,-1.0,-0.6,-1.8,
    0.6,-2.0,-0.4,-3.2,0.0,-2.4,-0.8,0.3,-2.8,-0.1,-1.2,0.8,-2.1,-0.5,-3.4,0.4,-0.9,-2.6,0.1,-2.9,
    -0.3,-1.9,0.6,-2.3,-0.7,-1.4,0.2,-0.2,-2.0,-1.0,0.5,-3.0,-0.6,-2.5,0.0,-1.2,-0.4,0.7,-1.8,-0.8,
    -2.2,0.3,-3.2,-0.1,-2.6,-0.5,0.4,-2.8,-0.9,-2.0,0.1,-0.7,-3.4,0.6,-2.4,-0.3,-2.9,0.8,-0.6,-1.9,
    -1.4,0.2,-2.1,-0.2,-0.9,
    -1.0,0.3,-2.3,-0.4,-3.0,0.7,-0.8,-2.6,-0.1,-3.2,0.5,-1.9,-0.6,-2.1,0.0,-2.9,-0.3,-2.5,0.6,-2.8,
    -0.7,0.2,-1.8,-0.2,-2.4,-1.2,0.8,-0.5,-3.4,-0.9,0.4,-2.2,-1.0,-0.1,-2.7,0.1,-1.4,-0.6,0.5,-2.0,
    -0.3,-3.0,0.3,-0.8,-2.3,-2.9,0.7,-0.4,-1.9,0.0,-2.5,-0.7,0.2,-3.2,-0.2,-2.1,0.6,-1.0,-0.5,-1.8,
    0.4,-2.6,-0.9,0.1,-2.8,-0.3,-2.2,0.8,-1.2,-0.6,-3.4,0.3,-0.1,-2.4,-1.0,0.5,-0.7,-2.0,-1.4,0.0,
    -0.4,-1.8,0.6,-2.7,-0.8,-1.2,0.2,-0.2,-2.3,-3.0,0.7,-0.9,-3.2,-0.5,-2.1,0.4,-2.9,-0.3,-2.5,0.1,
    -2.8,-0.6,-1.9,0.3,-0.2,
    -0.6,-2.0,0.5,-1.2,-0.2,-2.5,0.1,-3.0,-0.9,0.7,-1.4,-0.4,-2.2,0.3,-1.0,-0.1,-2.7,-0.7,0.6,-1.8,
    -0.3,-2.8,0.8,-2.1,-0.8,0.0,-3.2,-2.4,0.4,-0.5,-1.9,0.2,-2.9,-0.2,-2.6,0.6,-0.9,-3.4,-0.4,0.1,
    -2.3,-0.6,0.5,-1.4,-1.0,-0.1,-2.0,0.7,-0.7,-3.0,0.3,-2.5,-0.3,-1.2,0.0,-1.8,-0.8,0.8,-2.2,-0.5,
    -2.9,0.4,-2.8,-0.2,-2.4,0.2,-0.9,-1.9,0.6,-0.4,-2.7,-3.2,0.1,-0.6,-3.4,0.5,-2.1,-0.1,-1.0,0.3,
    -0.8,-2.3,0.7,-1.4,-0.3,-3.0,0.0,-2.0,-0.7,-1.2,0.4,-0.5,-2.6,-2.9,0.2,-1.8,-0.2,-0.9,0.6,-2.4,
    -2.8,-0.4,0.8,-2.1,-1.0,-0.6,0.3,-3.4,-0.1,-3.2,
    -0.2,-3.4,0.6,-1.0,-2.4,0.2,-0.7,-1.4,0.8,-2.0,-0.5,0.4,-1.2,-2.6,-0.1,-1.8,0.7,-0.8,-2.8,0.0,
    -2.2,-0.4,0.5,-2.9,-2.0,0.3,-0.6,-3.0,-0.2,0.8,-3.2,-2.5,0.1,-0.9,-0.3,-1.9,0.6,-1.2,-2.3,-0.5,
    0.2,-1.0,-0.1,-2.7,0.4,-1.4,-0.7,-2.1,0.7,-0.4,-3.4,0.0,-0.8,-2.4,0.5,-2.9,-0.2,-2.8,0.3,-2.0,
    -0.6,0.8,-3.2,-0.3,-2.2,0.1,-0.9,-1.8,0.6,-0.5,-2.5,-1.0,0.2,-0.1,-3.0,0.4,-0.7,-2.1,-1.2,0.7,
    -0.4,-1.9,0.0,-0.8,-2.6,0.5,-1.4,-0.2,-1.0,0.3,-2.3,-0.6,0.8,-3.4,-0.3,-2.9,0.1,-2.0,-0.9,0.6,
    -2.8,-0.1,-2.4,0.2,-0.5,-3.2,0.4,-0.7,-1.8,-0.2,
    -0.9,0.3,-2.1,-0.4,-3.2,0.7,-2.6,-0.1,-3.0,0.5,-2.9,-2.3,-0.6,0.1,-1.8,-0.2,0.8,-1.4,-2.5,-0.8,
    0.2,-1.0,-2.0,-0.5,0.6,-3.4,-0.3,-2.4,0.4,-1.2,-0.7,-2.2,0.0,-2.8,-0.9,0.7,-2.7,-0.4,-2.9,0.3,
    -1.9,-0.1,-3.2,0.5,-2.1,-0.6,-0.2,-3.0,0.8,-1.0,-2.4,0.1,-0.8,-1.4,-0.3,-2.0,0.6,-1.2,-0.5,-1.8,
    0.4,-2.6,-0.7,-0.1,-2.8,0.2,-2.2,-1.0,0.7,-0.4,-3.4,-0.9,0.3,-2.3,-0.2,-3.2,0.5,-0.6,-2.5,-2.9,
    0.0,-1.9,-0.3,0.6,-1.4,-2.1,-0.8,0.2,-3.0,-0.5,-2.0,0.4,-1.2,-0.7,-0.1,
    -0.4,-1.9,0.5,-2.9,-2.4,0.1,-0.7,-2.8,0.7,-2.1,-0.2,-3.2,-2.6,0.3,-0.9,-3.4,0.0,-2.2,-0.5,0.6,
    -1.0,-2.0,0.4,-0.3,-3.0,-2.5,0.2,-0.8,-1.2,0.8,-2.3,-0.1,-1.4,0.5,-0.6,-1.8,-2.7,0.1,-1.0,-0.4,
    0.6,-2.8,-0.2,-2.1,0.3,-0.9,-3.2,-0.6,-2.4,0.0,-3.4,0.7,-0.5,-2.9,-2.2,0.2,-0.8,-1.9,0.4,-0.3,
    -1.4,-2.0,0.5,-0.7,-0.1,-3.0,0.8,-2.5,-1.2,-0.4,
    -0.8,0.4,-3.0,-2.3,-0.2,0.7,-2.9,-2.0,-0.5,0.2,-1.4,-2.6,0.5,-0.9,-1.8,-0.3,0.8,-2.2,-1.0,-0.6,
    0.1,-3.4,-2.4,-0.4,0.6,-1.2,-0.1,-2.0,0.3,-2.8,-0.7,-2.5,0.0,-3.2,-0.3,0.5,-1.9,-0.9,-2.1,0.2,
    -2.9,-0.5,0.7,-3.0,-2.7,
    -0.6,-1.9,0.3,-1.2,-2.4,0.6,-0.3,-3.0,-0.9,0.1,-2.1,-0.5,0.5,-1.4,-0.1,-2.6,-0.8,0.2,-3.4,-1.0]

# moderately positive residuals
fitted_pos = [11.4,12.1,12.7,13.2,13.6,14.0,14.3,14.7,15.1,15.4,15.8,16.2,16.6,17.0,17.5,18.0,18.6,19.3,12.4,13.0,
    13.4,13.9,14.5,14.9,15.3,15.7,16.0,16.4,16.9,17.3,17.8,18.3,11.8,12.9,13.7,14.2,14.8,15.0,15.6,16.3,
    16.8,17.2,17.7,18.8,12.5,13.3,14.1,14.6,15.2,15.9,16.5,17.1,17.9,11.2,12.2,13.5,14.4,15.5,16.1,16.7,
    17.4,18.4,19.6,12.8,13.8,14.9,15.7,16.6,17.6,18.1,
    12.0,13.1,14.2,15.3,16.4,17.5,18.6,19.7,12.6,13.7,14.8,15.9,17.0,18.1,11.5,13.4,15.0,16.7,18.4,20.2,
    11.0,11.6,12.1,12.5,12.9,13.3,13.6,14.0,14.3,14.6,14.9,15.2,15.5,15.8,16.1,16.4,16.7,17.0,17.4,17.8,
    18.2,18.6,19.0,19.5,20.0,20.6,11.3,12.3,13.0,13.8,14.4,15.0,15.6,16.2,16.9,17.6,18.4,19.2,10.6,21.0,
    11.4,11.9,12.4,12.8,13.2,13.5,13.9,14.2,14.5,14.8,15.0,15.3,15.6,15.9,16.2,16.5,16.8,17.1,17.4,17.7,
    18.0,18.4,18.8,19.3,19.9,20.6,12.1,13.0,13.7,14.4,15.1,15.7,16.0,16.6,17.3,18.1,18.9,10.9,21.5,15.4,
    12.9,14.6,15.6,16.5,17.5,18.6,19.5]
resid_pos = [1.2,2.6,0.9,1.9,3.1,1.4,2.2,0.9,2.8,1.7,1.0,2.4,3.2,1.3,2.0,0.9,1.6,2.9,1.8,2.5,
    1.1,3.0,1.5,2.3,0.9,2.7,1.9,1.2,3.1,2.1,1.4,2.6,2.0,1.0,2.4,3.2,1.7,2.9,1.3,2.2,
    0.9,2.8,1.6,2.3,3.0,1.4,2.0,2.7,1.1,1.8,3.2,2.5,1.0,1.5,2.1,2.9,1.2,2.6,1.9,0.9,
    2.3,3.0,1.7,2.8,1.3,2.4,3.1,2.0,1.6,2.7,
    3.5,4.2,3.8,4.4,3.4,4.0,3.7,4.5,3.9,3.3,4.3,3.6,4.1,3.5,4.4,3.9,3.4,4.2,3.8,3.6,
    5.1,4.7,5.6,4.9,5.3,4.6,5.8,5.0,4.8,5.5,4.7,5.2,5.7,4.9,5.4,4.6,5.1,5.8,4.8,5.3,
    5.0,5.6,4.7,5.2,4.9,5.5,4.8,5.7,5.0,4.6,5.4,5.9,4.9,5.2,5.6,4.7,5.3,5.0,4.8,5.1,
    6.2,6.8,6.0,7.1,6.4,6.9,6.1,6.6,7.0,6.3,6.8,6.0,6.5,7.1,6.2,6.7,6.4,6.9,6.1,6.6,
    7.0,6.3,6.8,6.1,6.5,6.9,6.6,6.2,7.0,6.4,6.1,6.7,6.9,6.3,6.0,6.6,6.2,6.4,6.0,6.8,
    7.6,7.3,7.9,7.5,7.8,7.4,7.7]

# moderately negative residuals
fitted_neg = [11.2,12.0,12.6,13.1,13.5,13.9,14.3,14.7,15.1,15.5,15.9,16.3,16.7,17.1,17.6,18.1,18.7,19.4,20.1,12.3,
    13.7,14.9,16.0,17.3,18.4,
    10.8,11.4,11.9,12.4,12.8,13.2,13.6,14.0,14.4,14.8,15.2,15.6,16.0,16.4,16.8,17.2,17.6,18.0,18.5,19.0,
    19.6,20.3,11.7,12.6,13.4,14.2,15.0,15.8,16.6,17.4,18.2,19.2,20.8,13.0,15.4]
resid_neg = [-4.3,-4.8,-4.1,-4.6,-5.0,-4.2,-4.7,-4.4,-4.9,-4.1,-4.5,-5.1,-4.3,-4.8,-4.0,-4.6,-4.9,-4.2,-4.7,-4.4,
    -5.0,-4.5,-4.1,-4.9,-4.3,
    -5.4,-6.1,-5.7,-5.2,-6.3,-5.9,-5.3,-6.0,-5.6,-6.4,-5.2,-5.8,-6.2,-5.5,-5.9,-6.1,-5.3,-5.7,-6.3,-5.5,
    -6.0,-5.4,-5.8,-6.2,-5.5,-5.9,-6.3,-5.2,-5.6,-6.0,-5.4,-5.8,-6.1,-5.7,-5.3]

# ---------------- assemble ----------------
groups = [(fitted_top, resid_top), (fitted_upper, resid_upper), (fitted_left, resid_left),
          (fitted_bottom, resid_bottom), (fitted_right, resid_right),
          (fitted_core_a, resid_core_a), (fitted_core_b, resid_core_b), (fitted_core_c, resid_core_c),
          (fitted_dense_a, resid_dense_a), (fitted_dense_b, resid_dense_b), (fitted_dense_c, resid_dense_c),
          (fitted_band, resid_band), (fitted_pos, resid_pos), (fitted_neg, resid_neg)]
pairs = []
for fx, ry in groups:
    pairs.extend(zip(fx, ry))
df = pd.DataFrame(pairs, columns=["fitted", "resid"])

# Q-Q data computed from the residuals
n = len(df)
nd = NormalDist()
sample = np.sort(df["resid"].to_numpy())
theo = np.array([nd.inv_cdf((i - 0.5) / n) for i in range(1, n + 1)])
qq = pd.DataFrame({"theo": theo, "sample": sample})
q1, q3 = np.quantile(sample, [0.25, 0.75])
z1, z3 = nd.inv_cdf(0.25), nd.inv_cdf(0.75)
slope = (q3 - q1) / (z3 - z1)
intercept = q1 - slope * z1

# ---------------- styling ----------------
sns.set_style("white")
plt.rcParams["font.family"] = ["Liberation Sans", "DejaVu Sans"]
plt.rcParams["axes.unicode_minus"] = True

W, H = 1070, 517
fig = plt.figure(figsize=(W / 100, H / 100), dpi=100)

def axes_px(left, right, top, bottom):
    return fig.add_axes([left / W, 1 - bottom / H, (right - left) / W, (bottom - top) / H])

ax1 = axes_px(78.3, 526.0, 52.7, 454.3)
ax2 = axes_px(630.7, 1071.0, 52.7, 454.3)

pt_kw = dict(marker="o", s=18, facecolors="none", edgecolor="black", linewidth=0.9)
sns.scatterplot(data=df, x="fitted", y="resid", ax=ax1, **pt_kw)
sns.scatterplot(data=qq, x="theo", y="sample", ax=ax2, **pt_kw)
ax2.axline((0, intercept), slope=slope, color="black", lw=0.75)

def r_range(lo, hi):
    r = hi - lo
    return lo - 0.04 * r, hi + 0.04 * r

ylim = r_range(df["resid"].min(), df["resid"].max())
ax1.set_xlim(r_range(df["fitted"].min(), df["fitted"].max()))
ax1.set_ylim(ylim)
ax2.set_xlim(-3.877, 3.877)
ax2.set_ylim(ylim)

ax1.set_xticks([10, 15, 20, 25])
ax2.set_xticks([-3, -2, -1, 0, 1, 2, 3])
for ax in (ax1, ax2):
    ax.set_yticks([-10, -5, 0, 5, 10])
    for sp in ax.spines.values():
        sp.set_visible(True)
        sp.set_color("black")
        sp.set_linewidth(0.75)
    ax.tick_params(axis="both", which="both", direction="out", length=5.8, width=0.75,
                   labelsize=17, colors="black", bottom=True, left=True, top=False, right=False)
    ax.tick_params(axis="x", pad=3.0)
    ax.tick_params(axis="y", pad=4.8)
    ax.grid(False)

titles = ["Residuenplot", "Normal Q\u2212Q Plot"]
xlabels = ["vorhergesagte Nettomiete pro Quadratmeter", "Quantile unter Normalverteilung"]
for ax, t, xl in zip((ax1, ax2), titles, xlabels):
    pos = ax.get_position()
    w_px, h_px = pos.width * W, pos.height * H
    ax.set_title(t, fontsize=16.5, fontweight="bold", pad=15.8)
    ax.set_xlabel(xl, fontsize=17)
    ax.set_ylabel("Residuen", fontsize=17)
    ax.xaxis.set_label_coords(0.5, -(509.0 - 454.3) / h_px)
    ax.xaxis.label.set_va("baseline")
    ax.yaxis.set_label_coords(-49.5 / w_px, 0.5)
    ax.yaxis.label.set_va("baseline")

fig.savefig("out.png", dpi=100)
